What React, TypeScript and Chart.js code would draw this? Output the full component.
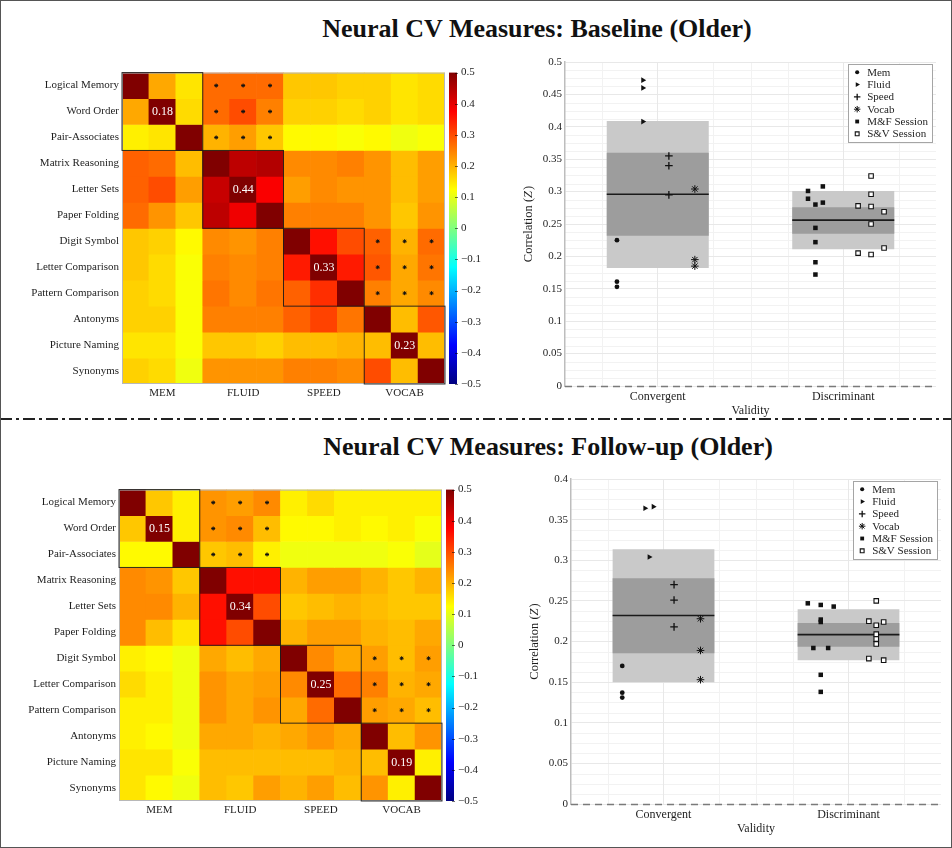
import React, { useEffect, useRef } from 'react';
import { Chart, registerables } from 'chart.js';
import { drawPoint } from 'chart.js/helpers';

Chart.register(...registerables);
Chart.defaults.font.family = '"Liberation Serif", "DejaVu Serif", serif';
Chart.defaults.font.size = 11;
Chart.defaults.color = '#1e1e1e';

// ---------------- data ----------------
const TESTS = [
  'Logical Memory', 'Word Order', 'Pair-Associates',
  'Matrix Reasoning', 'Letter Sets', 'Paper Folding',
  'Digit Symbol', 'Letter Comparison', 'Pattern Comparison',
  'Antonyms', 'Picture Naming', 'Synonyms',
];
const CONSTRUCTS = ['MEM', 'FLUID', 'SPEED', 'VOCAB'];
const CB_MIN = -0.5;
const CB_MAX = 0.5;
const CB_STEP = 0.1;
// blocks (rowBlock, colBlock) whose cells carry a significance marker
const SIG_BLOCKS = [[0, 1], [2, 3]];

const BASE_MATRIX = [
  [1, 0.21, 0.15, 0.27, 0.27, 0.27, 0.18, 0.18, 0.17, 0.17, 0.15, 0.16],
  [0.21, 1, 0.16, 0.27, 0.30, 0.25, 0.17, 0.17, 0.16, 0.17, 0.15, 0.16],
  [0.14, 0.15, 1, 0.20, 0.22, 0.18, 0.13, 0.13, 0.12, 0.13, 0.11, 0.12],
  [0.28, 0.27, 0.19, 1, 0.44, 0.45, 0.24, 0.24, 0.25, 0.23, 0.19, 0.22],
  [0.28, 0.30, 0.22, 0.43, 1, 0.38, 0.22, 0.24, 0.23, 0.23, 0.19, 0.22],
  [0.27, 0.23, 0.18, 0.44, 0.39, 1, 0.25, 0.25, 0.25, 0.23, 0.18, 0.23],
  [0.18, 0.17, 0.13, 0.24, 0.23, 0.25, 1, 0.36, 0.30, 0.28, 0.20, 0.27],
  [0.18, 0.16, 0.12, 0.25, 0.24, 0.25, 0.35, 1, 0.35, 0.29, 0.21, 0.26],
  [0.17, 0.16, 0.12, 0.26, 0.24, 0.26, 0.28, 0.33, 1, 0.25, 0.21, 0.24],
  [0.17, 0.17, 0.12, 0.25, 0.25, 0.25, 0.28, 0.31, 0.26, 1, 0.19, 0.29],
  [0.15, 0.15, 0.12, 0.18, 0.18, 0.17, 0.19, 0.19, 0.20, 0.19, 1, 0.19],
  [0.17, 0.16, 0.11, 0.23, 0.23, 0.23, 0.25, 0.25, 0.24, 0.30, 0.19, 1],
];
const BASE_BLOCK_LABELS = ['0.18', '0.44', '0.33', '0.23'];

const FOLLOW_MATRIX = [
  [1, 0.18, 0.14, 0.23, 0.22, 0.24, 0.14, 0.16, 0.14, 0.14, 0.14, 0.14],
  [0.18, 1, 0.14, 0.23, 0.24, 0.19, 0.13, 0.13, 0.14, 0.13, 0.14, 0.12],
  [0.13, 0.13, 1, 0.18, 0.19, 0.14, 0.11, 0.11, 0.11, 0.11, 0.12, 0.10],
  [0.24, 0.23, 0.18, 1, 0.36, 0.36, 0.20, 0.22, 0.22, 0.20, 0.18, 0.20],
  [0.24, 0.24, 0.20, 0.36, 1, 0.30, 0.18, 0.19, 0.20, 0.19, 0.18, 0.18],
  [0.24, 0.19, 0.15, 0.36, 0.30, 1, 0.20, 0.22, 0.22, 0.20, 0.19, 0.21],
  [0.14, 0.13, 0.11, 0.21, 0.19, 0.21, 1, 0.24, 0.21, 0.22, 0.19, 0.22],
  [0.16, 0.14, 0.11, 0.23, 0.21, 0.22, 0.24, 1, 0.27, 0.25, 0.20, 0.21],
  [0.14, 0.14, 0.11, 0.23, 0.21, 0.23, 0.21, 0.27, 1, 0.22, 0.21, 0.19],
  [0.14, 0.13, 0.11, 0.21, 0.21, 0.20, 0.21, 0.23, 0.21, 1, 0.19, 0.23],
  [0.15, 0.15, 0.12, 0.19, 0.19, 0.19, 0.19, 0.19, 0.20, 0.19, 1, 0.14],
  [0.15, 0.13, 0.11, 0.19, 0.18, 0.22, 0.20, 0.22, 0.19, 0.23, 0.14, 1],
];
const FOLLOW_BLOCK_LABELS = ['0.15', '0.34', '0.25', '0.19'];

const VALIDITY = ['Convergent', 'Discriminant'];

const BASE_MEM = [{ x: 0.78, y: 0.225 }, { x: 0.78, y: 0.161 }, { x: 0.78, y: 0.153 }];
const BASE_FLUID = [{ x: 0.92, y: 0.472 }, { x: 0.92, y: 0.46 }, { x: 0.92, y: 0.408 }];
const BASE_SPEED = [{ x: 1.06, y: 0.355 }, { x: 1.06, y: 0.34 }, { x: 1.06, y: 0.295 }];
const BASE_VOCAB = [{ x: 1.2, y: 0.304 }, { x: 1.2, y: 0.195 }, { x: 1.2, y: 0.185 }];
const BASE_MF = [
  { x: 1.81, y: 0.301 }, { x: 1.81, y: 0.289 }, { x: 1.89, y: 0.308 },
  { x: 1.85, y: 0.28 }, { x: 1.89, y: 0.283 }, { x: 1.85, y: 0.244 },
  { x: 1.85, y: 0.222 }, { x: 1.85, y: 0.191 }, { x: 1.85, y: 0.172 },
];
const BASE_SV = [
  { x: 2.15, y: 0.324 }, { x: 2.15, y: 0.296 }, { x: 2.08, y: 0.278 },
  { x: 2.15, y: 0.277 }, { x: 2.22, y: 0.269 }, { x: 2.15, y: 0.25 },
  { x: 2.22, y: 0.213 }, { x: 2.08, y: 0.205 }, { x: 2.15, y: 0.203 },
];
const BASE_OUTER = [[0.182, 0.409], [0.211, 0.301]];
const BASE_INNER = [[0.232, 0.36], [0.235, 0.276]];
const BASE_MEAN = [0.296, 0.256];
const BASE_YMAX = 0.5;

const FOLLOW_MEM = [{ x: 0.777, y: 0.17 }, { x: 0.777, y: 0.137 }, { x: 0.777, y: 0.131 }];
const FOLLOW_FLUID = [{ x: 0.9, y: 0.364 }, { x: 0.945, y: 0.366 }, { x: 0.923, y: 0.304 }];
const FOLLOW_SPEED = [{ x: 1.057, y: 0.27 }, { x: 1.057, y: 0.251 }, { x: 1.057, y: 0.218 }];
const FOLLOW_VOCAB = [{ x: 1.2, y: 0.228 }, { x: 1.2, y: 0.189 }, { x: 1.2, y: 0.153 }];
const FOLLOW_MF = [
  { x: 1.78, y: 0.247 }, { x: 1.85, y: 0.245 }, { x: 1.92, y: 0.243 },
  { x: 1.85, y: 0.227 }, { x: 1.85, y: 0.224 }, { x: 1.81, y: 0.192 },
  { x: 1.89, y: 0.192 }, { x: 1.85, y: 0.159 }, { x: 1.85, y: 0.138 },
];
const FOLLOW_SV = [
  { x: 2.15, y: 0.25 }, { x: 2.11, y: 0.225 }, { x: 2.15, y: 0.22 },
  { x: 2.19, y: 0.224 }, { x: 2.15, y: 0.209 }, { x: 2.15, y: 0.203 },
  { x: 2.15, y: 0.197 }, { x: 2.11, y: 0.179 }, { x: 2.19, y: 0.177 },
];
const FOLLOW_OUTER = [[0.15, 0.3135], [0.177, 0.2397]];
const FOLLOW_INNER = [[0.1855, 0.278], [0.1934, 0.2229]];
const FOLLOW_MEAN = [0.232, 0.2085];
const FOLLOW_YMAX = 0.4;

// ---------------- helpers ----------------
const FONT = '"Liberation Serif", "DejaVu Serif", serif';
const INK = '#111111';

function jet(v: number): string {
  const t = Math.max(0, Math.min(1, (v - CB_MIN) / (CB_MAX - CB_MIN)));
  const f = (a: number) => Math.round(255 * Math.max(0, Math.min(1, a)));
  const r = f(Math.min(4 * t - 1.5, -4 * t + 4.5));
  const g = f(Math.min(4 * t - 0.5, -4 * t + 3.5));
  const b = f(Math.min(4 * t + 0.5, -4 * t + 2.5));
  return `rgb(${r},${g},${b})`;
}

const fmtCb = (v: any) => {
  const n = Math.round(Number(v) * 10) / 10;
  if (n === 0) return '0';
  return (n < 0 ? '\u2212' : '') + Math.abs(n).toFixed(1);
};

function heatmapConfig(matrix: number[][], blockLabels: string[], lay: any): any {
  const decor = {
    id: 'heatDecor',
    afterDatasetsDraw(chart: any) {
      const { ctx, chartArea: ca, scales } = chart;
      const xs = scales.x;
      const ys = scales.y;
      const cw = xs.getPixelForValue(1) - xs.getPixelForValue(0);
      const colL = (c: number) => xs.getPixelForValue(c) - cw / 2;
      const rowT = (r: number) => ys.getPixelForValue(r);
      ctx.save();
      ctx.strokeStyle = '#b8b8b8';
      ctx.lineWidth = 1;
      ctx.strokeRect(ca.left + 0.5, ca.top + 0.5, ca.width - 1, ca.height - 1);
      // significance markers
      ctx.strokeStyle = INK;
      ctx.fillStyle = INK;
      SIG_BLOCKS.forEach(([rb, cbk]) => {
        for (let i = 0; i < 3; i++) {
          for (let j = 0; j < 3; j++) {
            const r = rb * 3 + i;
            const c = cbk * 3 + j;
            const x = xs.getPixelForValue(c);
            const y = (rowT(r) + rowT(r + 1)) / 2;
            drawPoint(ctx, { pointStyle: 'star', radius: 2, borderWidth: 1, rotation: 0 } as any, x, y);
          }
        }
      });
      // block outlines
      ctx.strokeStyle = 'rgba(25,25,25,0.9)';
      ctx.lineWidth = 1;
      for (let b = 0; b < CONSTRUCTS.length; b++) {
        const x0 = colL(b * 3);
        const x1 = colL(b * 3 + 3);
        const y0 = rowT(b * 3);
        const y1 = rowT(b * 3 + 3);
        ctx.strokeRect(x0, y0, x1 - x0, y1 - y0);
      }
      // block mean labels
      ctx.fillStyle = '#ffffff';
      ctx.font = `12px ${FONT}`;
      ctx.textAlign = 'center';
      ctx.textBaseline = 'middle';
      blockLabels.forEach((lab, b) => {
        const c = b * 3 + 1;
        ctx.fillText(lab, xs.getPixelForValue(c), (rowT(c) + rowT(c + 1)) / 2 + 0.5);
      });
      ctx.restore();
    },
    afterDraw(chart: any) {
      const { ctx, chartArea: ca } = chart;
      const cb = chart.scales.cb;
      const x0 = ca.right + 4;
      const w = 8;
      const yTop = cb.getPixelForValue(CB_MAX);
      const yBot = cb.getPixelForValue(CB_MIN);
      ctx.save();
      const g = ctx.createLinearGradient(0, yBot, 0, yTop);
      [0, 0.125, 0.375, 0.625, 0.875, 1].forEach((t) => g.addColorStop(t, jet(CB_MIN + t * (CB_MAX - CB_MIN))));
      ctx.fillStyle = g;
      ctx.fillRect(x0, yTop, w, yBot - yTop);
      ctx.strokeStyle = 'rgba(0,0,0,0.55)';
      ctx.lineWidth = 1;
      cb.ticks.forEach((t: any) => {
        const y = Math.round(cb.getPixelForValue(t.value)) + 0.5;
        ctx.beginPath();
        ctx.moveTo(x0 + w - 2, y);
        ctx.lineTo(x0 + w + 1, y);
        ctx.stroke();
      });
      ctx.restore();
    },
  };

  return {
    type: 'bar',
    data: {
      labels: TESTS,
      datasets: matrix.map((row, r) => ({
        label: TESTS[r],
        data: row.map(() => [r, r + 1]),
        backgroundColor: row.map(jet),
        borderWidth: 0,
        grouped: false,
        barPercentage: 1,
        categoryPercentage: 1,
      })),
    },
    options: {
      responsive: false,
      animation: false,
      events: [],
      layout: { padding: { top: lay.padTop, left: 0, right: 0, bottom: 0 }, autoPadding: false },
      plugins: { legend: { display: false }, tooltip: { enabled: false } },
      scales: {
        x: {
          type: 'category',
          offset: true,
          grid: { display: false, drawTicks: false },
          border: { display: false },
          ticks: {
            autoSkip: false,
            maxRotation: 0,
            padding: 3,
            font: { size: 11 },
            callback: (_v: any, i: number) => (i % 3 === 1 ? CONSTRUCTS[(i - 1) / 3] : ''),
          },
          afterFit: (s: any) => { s.height = lay.xAxisHeight; },
        },
        y: {
          type: 'linear',
          min: 0,
          max: TESTS.length,
          reverse: true,
          grid: { display: false, drawTicks: false },
          border: { display: false },
          afterBuildTicks: (s: any) => { s.ticks = TESTS.map((_t, i) => ({ value: i + 0.5 })); },
          ticks: {
            autoSkip: false,
            padding: 3,
            font: { size: 11 },
            callback: (v: any) => TESTS[Math.floor(Number(v))],
          },
          afterFit: (s: any) => { s.width = lay.yAxisWidth; },
        },
        cb: {
          type: 'linear',
          axis: 'y',
          position: 'right',
          min: CB_MIN,
          max: CB_MAX,
          grid: { display: false, drawTicks: false },
          border: { display: false },
          ticks: { stepSize: CB_STEP, autoSkip: false, padding: 16, font: { size: 11 }, callback: fmtCb },
          afterFit: (s: any) => { s.width = lay.rightWidth; },
        },
      },
    },
    plugins: [decor],
  };
}

function scatterConfig(p: any, lay: any): any {
  const INNER_INDEX = 6;
  const minorGrid = {
    id: 'minorGrid',
    beforeDraw(chart: any) {
      const { ctx, chartArea: ca, scales } = chart;
      ctx.save();
      ctx.strokeStyle = '#f2f2f2';
      ctx.lineWidth = 1;
      for (let k = 1; k * 0.0125 < p.ymax; k++) {
        if (k % 4 === 0) continue;
        const y = Math.round(scales.y.getPixelForValue(k * 0.0125)) + 0.5;
        ctx.beginPath(); ctx.moveTo(ca.left, y); ctx.lineTo(ca.right, y); ctx.stroke();
      }
      [0.7, 1.3, 1.5, 1.7, 2.3].forEach((xv) => {
        const x = Math.round(scales.x.getPixelForValue(xv)) + 0.5;
        ctx.beginPath(); ctx.moveTo(x, ca.top); ctx.lineTo(x, ca.bottom); ctx.stroke();
      });
      ctx.restore();
    },
    afterDatasetDraw(chart: any, args: any) {
      if (args.index !== INNER_INDEX) return;
      const { ctx } = chart;
      const ys = chart.scales.y;
      ctx.save();
      ctx.strokeStyle = '#1a1a1a';
      ctx.lineWidth = 1.6;
      args.meta.data.forEach((bar: any, i: number) => {
        const { x, width } = bar.getProps(['x', 'width'], true);
        const y = ys.getPixelForValue(p.mean[i]);
        ctx.beginPath();
        ctx.moveTo(x - width / 2, y);
        ctx.lineTo(x + width / 2, y);
        ctx.stroke();
      });
      ctx.restore();
    },
    afterDatasetsDraw(chart: any) {
      const { ctx, chartArea: ca } = chart;
      const y = Math.round(chart.scales.y.getPixelForValue(0)) + 0.5;
      ctx.save();
      ctx.strokeStyle = '#7a7a7a';
      ctx.lineWidth = 1.3;
      ctx.setLineDash([7, 5]);
      ctx.beginPath(); ctx.moveTo(ca.left, y); ctx.lineTo(ca.right, y); ctx.stroke();
      ctx.restore();
    },
    afterDraw(chart: any) {
      const { ctx, chartArea: ca } = chart;
      // y-axis title with italic Z
      const ys = chart.scales.y;
      ctx.save();
      const tx = ys.left + 11.5;
      const ty = (ca.top + ca.bottom) / 2;
      ctx.translate(tx, ty);
      ctx.rotate(-Math.PI / 2);
      ctx.textBaseline = 'middle';
      ctx.textAlign = 'left';
      ctx.fillStyle = '#1e1e1e';
      const parts = [
        { t: 'Correlation (', f: `12.5px ${FONT}` },
        { t: 'Z', f: `italic 12.5px ${FONT}` },
        { t: ')', f: `12.5px ${FONT}` },
      ];
      let total = 0;
      parts.forEach((pp) => { ctx.font = pp.f; total += ctx.measureText(pp.t).width + (pp.t === 'Z' ? 1 : 0); });
      let cx = -total / 2;
      parts.forEach((pp) => {
        ctx.font = pp.f;
        ctx.fillText(pp.t, cx, 0);
        cx += ctx.measureText(pp.t).width + (pp.t === 'Z' ? 1 : 0);
      });
      ctx.restore();

      // inside legend
      const items = chart.data.datasets.filter((d: any) => d.type === 'scatter');
      ctx.save();
      ctx.font = `11px ${FONT}`;
      const textW = Math.max(...items.map((d: any) => ctx.measureText(d.label).width));
      const rowH = 12.3;
      const w = 19 + textW + 4;
      const h = 8 + rowH * (items.length - 1) + 8;
      const bx = ca.right - 4 - w;
      const by = ca.top + 2;
      ctx.fillStyle = '#ffffff';
      ctx.fillRect(bx, by, w, h);
      ctx.strokeStyle = '#a5a5a5';
      ctx.lineWidth = 1;
      ctx.strokeRect(Math.round(bx) + 0.5, Math.round(by) + 0.5, Math.round(w), Math.round(h));
      items.forEach((d: any, i: number) => {
        const cy = by + 8.3 + i * rowH;
        ctx.fillStyle = d.pointBackgroundColor;
        ctx.strokeStyle = d.pointBorderColor;
        ctx.lineWidth = d.pointBorderWidth;
        drawPoint(ctx, {
          pointStyle: d.pointStyle,
          rotation: d.pointRotation || 0,
          radius: d.legendRadius,
          borderWidth: d.pointBorderWidth,
        } as any, bx + 9, cy);
        ctx.fillStyle = '#1e1e1e';
        ctx.textAlign = 'left';
        ctx.textBaseline = 'middle';
        ctx.fillText(d.label, bx + 19, cy + 0.5);
      });
      ctx.restore();
    },
  };

  const pt = (label: string, data: any, style: string, radius: number, extra: any = {}) => ({
    type: 'scatter',
    label,
    data,
    pointStyle: style,
    pointRadius: radius,
    legendRadius: radius * 0.85,
    pointBackgroundColor: INK,
    pointBorderColor: INK,
    pointBorderWidth: 0,
    ...extra,
  });

  return {
    type: 'scatter',
    data: {
      datasets: [
        pt('Mem', p.mem, 'circle', 2.4),
        pt('Fluid', p.fluid, 'triangle', 3.3, { pointRotation: 90 }),
        pt('Speed', p.speed, 'cross', 3.8, { pointBorderWidth: 1.3 }),
        pt('Vocab', p.vocab, 'star', 3.8, { pointBorderWidth: 1 }),
        pt('M&F Session', p.mf, 'rect', 3.2),
        pt('S&V Session', p.sv, 'rect', 3.2, { pointBackgroundColor: '#ffffff', pointBorderWidth: 1.1 }),
        {
          type: 'bar',
          label: 'inner',
          data: p.inner.map((r: number[], i: number) => ({ x: i + 1, y: r })),
          backgroundColor: '#9d9d9d',
          borderWidth: 0,
          grouped: false,
          barPercentage: 0.55,
          categoryPercentage: 1,
        },
        {
          type: 'bar',
          label: 'outer',
          data: p.outer.map((r: number[], i: number) => ({ x: i + 1, y: r })),
          backgroundColor: '#c9c9c9',
          borderWidth: 0,
          grouped: false,
          barPercentage: 0.55,
          categoryPercentage: 1,
        },
      ],
    },
    options: {
      responsive: false,
      animation: false,
      events: [],
      layout: { padding: { top: lay.padTop, left: lay.padLeft, right: lay.padRight, bottom: 0 }, autoPadding: false },
      plugins: { legend: { display: false }, tooltip: { enabled: false } },
      scales: {
        x: {
          type: 'linear',
          offset: false,
          min: 0.5,
          max: VALIDITY.length + 0.5,
          afterBuildTicks: (s: any) => { s.ticks = VALIDITY.map((_v, i) => ({ value: i + 1 })); },
          grid: { color: '#e8e8e8', drawTicks: false, offset: false },
          border: { display: false },
          ticks: { padding: 4, font: { size: 12 }, callback: (v: any) => VALIDITY[Math.round(Number(v)) - 1] },
          title: { display: true, text: 'Validity', font: { size: 12 }, padding: { top: 0, bottom: lay.titlePadBottom } },
          afterFit: (s: any) => { s.height = lay.xAxisHeight; },
        },
        y: {
          type: 'linear',
          min: 0,
          max: p.ymax,
          grid: { color: '#e8e8e8', drawTicks: false },
          border: { display: true, color: '#bdbdbd', width: 1.5 },
          ticks: { stepSize: 0.05, autoSkip: false, padding: 3, font: { size: 11 }, callback: (v: any) => String(Number(Number(v).toFixed(3))) },
          title: { display: false },
          afterFit: (s: any) => { s.width = 48; },
        },
      },
    },
    plugins: [minorGrid],
  };
}

function ChartBox({ left, top, width, height, make }: any) {
  const ref = useRef<HTMLCanvasElement>(null);
  useEffect(() => {
    const chart = new Chart(ref.current as HTMLCanvasElement, make());
    return () => chart.destroy();
  }, []);
  return (
    <div style={{ position: 'absolute', left, top, width, height }}>
      <canvas ref={ref} width={width} height={height} style={{ display: 'block', width, height }} />
    </div>
  );
}

const titleStyle = (cx: number, top: number): any => ({
  position: 'absolute',
  left: cx - 350,
  width: 700,
  top,
  textAlign: 'center',
  font: `bold 26px/26px ${FONT}`,
  color: '#111',
  whiteSpace: 'nowrap',
});

export default function App() {
  return (
    <div style={{ position: 'absolute', left: 0, top: 0, width: 952, height: 848, background: '#fff', overflow: 'hidden' }}>
      <div style={titleStyle(537, 16)}>Neural CV Measures: Baseline (Older)</div>
      <div style={titleStyle(548, 434)}>Neural CV Measures: Follow-up (Older)</div>

      <ChartBox
        left={0} top={50} width={500} height={360}
        make={() => heatmapConfig(BASE_MATRIX, BASE_BLOCK_LABELS, { padTop: 11, yAxisWidth: 122, rightWidth: 55, xAxisHeight: 26 })}
      />
      <ChartBox
        left={495} top={40} width={457} height={390}
        make={() => scatterConfig(
          { mem: BASE_MEM, fluid: BASE_FLUID, speed: BASE_SPEED, vocab: BASE_VOCAB, mf: BASE_MF, sv: BASE_SV, inner: BASE_INNER, outer: BASE_OUTER, mean: BASE_MEAN, ymax: BASE_YMAX },
          { padTop: 22, padLeft: 22, padRight: 16, xAxisHeight: 44, titlePadBottom: 12 },
        )}
      />

      <svg width={952} height={6} style={{ position: 'absolute', left: 0, top: 416 }}>
        <line x1={0} y1={3} x2={952} y2={3} stroke="#222" strokeWidth={2} strokeDasharray="12 4 3 4" />
      </svg>

      <ChartBox
        left={0} top={467} width={497} height={360}
        make={() => heatmapConfig(FOLLOW_MATRIX, FOLLOW_BLOCK_LABELS, { padTop: 10, yAxisWidth: 119, rightWidth: 55, xAxisHeight: 26 })}
      />
      <ChartBox
        left={495} top={455} width={457} height={390}
        make={() => scatterConfig(
          { mem: FOLLOW_MEM, fluid: FOLLOW_FLUID, speed: FOLLOW_SPEED, vocab: FOLLOW_VOCAB, mf: FOLLOW_MF, sv: FOLLOW_SV, inner: FOLLOW_INNER, outer: FOLLOW_OUTER, mean: FOLLOW_MEAN, ymax: FOLLOW_YMAX },
          { padTop: 24, padLeft: 28, padRight: 11, xAxisHeight: 41, titlePadBottom: 9 },
        )}
      />
      <div style={{ position: 'absolute', left: 0, top: 0, width: 952, height: 848, boxSizing: 'border-box', border: '1px solid #555', pointerEvents: 'none' }} />
    </div>
  );
}
